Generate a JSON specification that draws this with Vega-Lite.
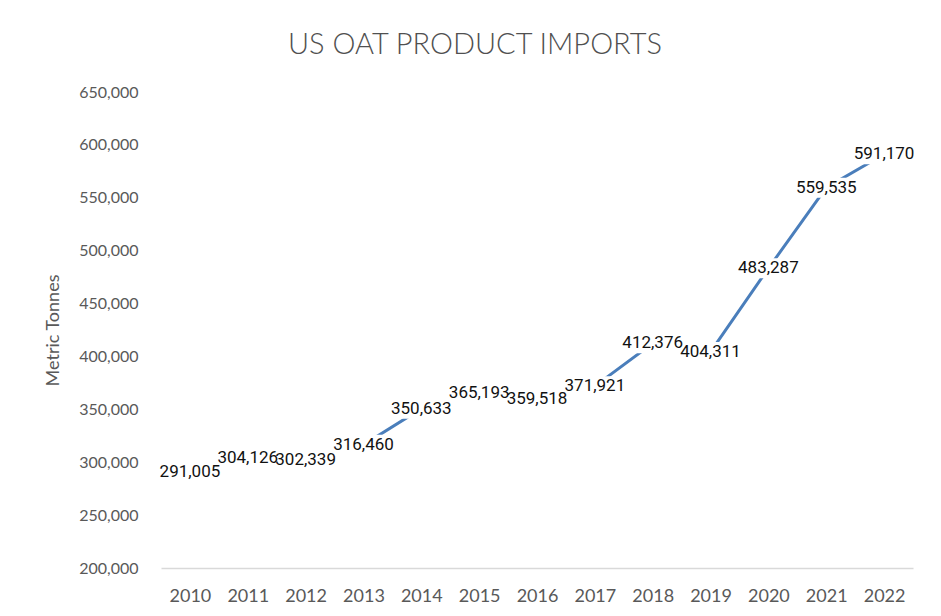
{
  "$schema": "https://vega.github.io/schema/vega-lite/v6.json",
  "width": 752,
  "height": 476,
  "autosize": {"type": "none"},
  "padding": {"left": 161, "top": 92, "right": 28, "bottom": 48},
  "background": "white",
  "title": {
    "text": "US OAT PRODUCT IMPORTS",
    "font": "Lato",
    "fontSize": 29,
    "fontWeight": 300,
    "color": "#505050",
    "anchor": "middle",
    "dx": -62,
    "offset": 24
  },
  "data": {
    "values": [
      {"year": "2010", "tonnes": 291005},
      {"year": "2011", "tonnes": 304126},
      {"year": "2012", "tonnes": 302339},
      {"year": "2013", "tonnes": 316460},
      {"year": "2014", "tonnes": 350633},
      {"year": "2015", "tonnes": 365193},
      {"year": "2016", "tonnes": 359518},
      {"year": "2017", "tonnes": 371921},
      {"year": "2018", "tonnes": 412376},
      {"year": "2019", "tonnes": 404311},
      {"year": "2020", "tonnes": 483287},
      {"year": "2021", "tonnes": 559535},
      {"year": "2022", "tonnes": 591170}
    ]
  },
  "encoding": {
    "x": {
      "field": "year",
      "type": "ordinal",
      "scale": {"type": "point", "padding": 0.5},
      "axis": {
        "title": null,
        "labelAngle": 0,
        "labelFont": "Lato",
        "labelFontSize": 18,
        "labelColor": "#595959",
        "labelPadding": 19,
        "ticks": false,
        "domainColor": "#d9d9d9",
        "domainWidth": 1.5,
        "grid": false
      }
    },
    "y": {
      "field": "tonnes",
      "type": "quantitative",
      "scale": {"domain": [200000, 650000], "nice": false, "zero": false},
      "axis": {
        "title": "Metric Tonnes",
        "titleFont": "Lato",
        "titleFontSize": 18,
        "titleFontWeight": "normal",
        "titleColor": "#595959",
        "titlePadding": 16,
        "values": [200000, 250000, 300000, 350000, 400000, 450000, 500000, 550000, 600000, 650000],
        "format": ",d",
        "labelFont": "Lato",
        "labelFontSize": 16,
        "labelColor": "#595959",
        "labelPadding": 23,
        "ticks": false,
        "domain": false,
        "grid": false
      }
    }
  },
  "layer": [
    {
      "mark": {"type": "line", "color": "#4A7EBB", "strokeWidth": 3}
    },
    {
      "mark": {"type": "tick", "color": "white", "opacity": 1, "size": 64, "thickness": 20}
    },
    {
      "mark": {"type": "text", "font": "Roboto", "fontSize": 17, "color": "#111111", "align": "center", "baseline": "middle"},
      "encoding": {
        "text": {"field": "tonnes", "type": "quantitative", "format": ",d"}
      }
    }
  ],
  "config": {"view": {"stroke": null}}
}
